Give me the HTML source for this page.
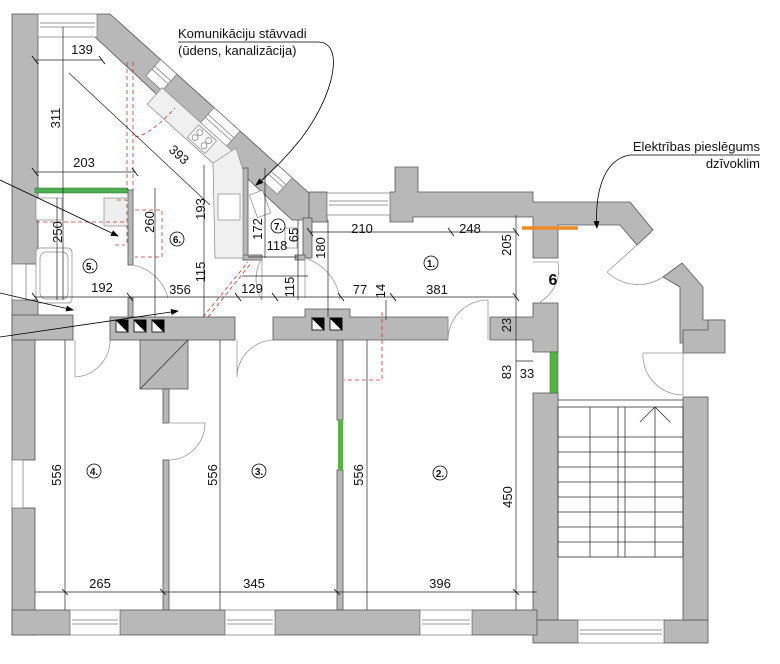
<!DOCTYPE html>
<html><head><meta charset="utf-8"><style>
html,body{margin:0;padding:0;background:#fff;}
svg{display:block;}
text{font-family:"Liberation Sans",sans-serif;font-size:13px;fill:#111;}
</style></head><body>
<svg width="780" height="664" viewBox="0 0 780 664" xmlns="http://www.w3.org/2000/svg">
<defs>
<marker id="ar" markerWidth="8" markerHeight="8" refX="7" refY="4" orient="auto" markerUnits="userSpaceOnUse"><path d="M0,1 L8,4 L0,7 z" fill="#000"/></marker>
</defs>
<g fill="#b8b8b8" stroke="#555" stroke-width="0.8">
<rect x="12" y="14" width="26" height="250"/>
<rect x="12" y="300" width="26" height="40"/>
<rect x="12" y="315" width="61" height="25"/>
<rect x="12" y="340" width="23" height="120"/>
<rect x="12" y="508" width="23" height="127"/>
<polygon points="97,14 110,14 309,193 309,220 292,220 95,37"/>
<rect x="309" y="192" width="18" height="30"/>
<polygon points="390,192 395,192 395,167 418,167 418,192 533,192 533,202 630,202 653,230 637,245 620,225 558,225 558,258 533,258 533,217 413,217 413,222 390,222"/>
<rect x="303" y="218" width="9" height="40"/>
<polygon points="663,277 682,263 703,287 703,320 723,320 723,343 680,343 680,287"/>
<polygon points="273,317 305,317 305,309 350,309 350,317 448,317 448,340 273,340"/>
<polygon points="490,317 533,317 533,303 558,303 558,352 533,352 533,340 490,340"/>
<rect x="110" y="317" width="125" height="23"/>
<rect x="128" y="298" width="5" height="19"/>
<rect x="140" y="340" width="48" height="49"/>
<rect x="163" y="389" width="6" height="34"/>
<rect x="163" y="460" width="6" height="150"/>
<rect x="337" y="340" width="6" height="80"/>
<rect x="337" y="470" width="6" height="140"/>
<rect x="128" y="190" width="5" height="75"/>
<rect x="243" y="168" width="5" height="92"/>
<rect x="243" y="255" width="19" height="5"/>
<rect x="295" y="255" width="10" height="5"/>
<rect x="533" y="393" width="25" height="227"/>
<rect x="533" y="620" width="45" height="23"/>
<rect x="664" y="620" width="44" height="23"/>
<rect x="683" y="397" width="25" height="223"/>
<polygon points="683,330 708,330 708,320 725,320 725,353 708,353 683,353"/>
<rect x="12" y="610" width="58" height="25"/>
<rect x="120" y="610" width="105" height="25"/>
<rect x="275" y="610" width="145" height="25"/>
<rect x="472" y="610" width="65" height="25"/>
</g>
<line x1="140" y1="389" x2="188" y2="340" stroke="#333" stroke-width="0.8"/>
<g fill="#fff" stroke="#777" stroke-width="0.7">
<rect x="38" y="14" width="59" height="23"/><line x1="40" y1="23" x2="95" y2="23"/><line x1="40" y1="27" x2="95" y2="27"/>
<rect x="327" y="193" width="63" height="22"/><line x1="329" y1="201" x2="388" y2="201"/><line x1="329" y1="205" x2="388" y2="205"/>
<rect x="70" y="610" width="50" height="25"/><line x1="72" y1="620" x2="118" y2="620"/><line x1="72" y1="624" x2="118" y2="624"/>
<rect x="225" y="610" width="50" height="25"/><line x1="227" y1="620" x2="273" y2="620"/><line x1="227" y1="624" x2="273" y2="624"/>
<rect x="420" y="610" width="52" height="25"/><line x1="422" y1="620" x2="470" y2="620"/><line x1="422" y1="624" x2="470" y2="624"/>
<rect x="578" y="620" width="86" height="23"/><line x1="580" y1="630" x2="662" y2="630"/><line x1="580" y1="634" x2="662" y2="634"/>
<rect x="12" y="264" width="14" height="36"/>
<rect x="12" y="460" width="11" height="48"/>
</g>
<g transform="translate(110,14) rotate(42)">
<g fill="#fff" stroke="#777" stroke-width="0.7">
<rect x="68" y="0" width="22" height="22"/><rect x="140" y="0" width="35" height="22"/><rect x="225" y="0" width="20" height="22"/>
<line x1="68" y1="9" x2="90" y2="9"/><line x1="140" y1="9" x2="175" y2="9"/><line x1="225" y1="9" x2="245" y2="9"/>
<line x1="68" y1="13" x2="90" y2="13"/><line x1="140" y1="13" x2="175" y2="13"/><line x1="225" y1="13" x2="245" y2="13"/>
</g>
<polygon points="88,20 190,20 178,42 88,42" fill="#f0f0f0" stroke="#888" stroke-width="0.7"/>
<rect x="140" y="23" width="24" height="17" fill="#fafafa" stroke="#777" stroke-width="0.6"/>
<circle cx="146" cy="28" r="3" fill="none" stroke="#666" stroke-width="0.6"/><circle cx="158" cy="28" r="3" fill="none" stroke="#666" stroke-width="0.6"/>
<circle cx="146" cy="35" r="3" fill="none" stroke="#666" stroke-width="0.6"/><circle cx="158" cy="35" r="3" fill="none" stroke="#666" stroke-width="0.6"/>
</g>
<polygon points="213,163 236,148 243,170 243,258 215,258" fill="#f0f0f0" stroke="#888" stroke-width="0.7"/>
<rect x="218" y="194" width="22" height="26" fill="#fff" stroke="#777" stroke-width="0.6"/>
<g fill="#fff" stroke="#888" stroke-width="0.7">
<rect x="36" y="198" width="26" height="22"/>
<rect x="36" y="248" width="36" height="55" rx="4"/>
<rect x="40" y="252" width="28" height="47" rx="6"/>
<rect x="104" y="198" width="24" height="28" fill="#eee"/>
<rect x="253" y="192" width="14" height="24" transform="rotate(-20 260 204)"/>
<rect x="285" y="228" width="12" height="20"/>
</g>
<rect x="35" y="188" width="93" height="5" fill="#4caf50" stroke="#2a6a2a" stroke-width="0.5"/>
<rect x="550" y="352" width="8" height="41" fill="#5bb04a" stroke="#2a6a2a" stroke-width="0.5"/>
<rect x="338" y="420" width="5" height="50" fill="#5bb04a"/>
<line x1="522" y1="228" x2="578" y2="228" stroke="#f08a24" stroke-width="3.5"/>
<g stroke="#000" stroke-width="0.8">
<rect x="116" y="320" width="12" height="12" fill="#fff"/><polygon points="116,320 128,320 128,332" fill="#000"/>
<rect x="134" y="320" width="12" height="12" fill="#fff"/><polygon points="134,320 146,320 146,332" fill="#000"/>
<rect x="152" y="320" width="12" height="12" fill="#fff"/><polygon points="152,320 164,320 164,332" fill="#000"/>
<rect x="312" y="318" width="12" height="12" fill="#fff"/><polygon points="312,318 324,318 324,330" fill="#000"/>
<rect x="330" y="318" width="12" height="12" fill="#fff"/><polygon points="330,318 342,318 342,330" fill="#000"/>
</g>
<g stroke="#333" stroke-width="0.8" fill="none">
<rect x="558" y="407" width="125" height="150"/>
<line x1="618" y1="407" x2="618" y2="557"/><line x1="625" y1="407" x2="625" y2="557"/>
<line x1="590" y1="407" x2="590" y2="557"/><line x1="655" y1="407" x2="655" y2="557"/>
<path d="M558,437H683M558,452H683M558,467H683M558,482H683M558,497H683M558,512H683M558,527H683M558,542H683"/>
<polyline points="640,422 655,407 670,422"/>
<line x1="558" y1="400" x2="683" y2="400"/>
</g>
<g fill="none" stroke="#999" stroke-width="0.8">
<path d="M75,377 V340 M75,377 A37,37 0 0 0 110,340"/>
<path d="M237,377 V340 M237,377 A38,38 0 0 1 273,340"/>
<path d="M170,423 H205 A37,37 0 0 1 170,460"/>
<path d="M448,340 V317 M448,340 A40,40 0 0 1 488,300 V340"/>
<path d="M533,262 H558 A38,38 0 0 1 540,302"/>
<path d="M607,272 L637,245 M607,272 A45,45 0 0 0 663,277"/>
<path d="M643,353 H683 V395 A40,40 0 0 1 643,353"/>
<path d="M133,265 A45,45 0 0 1 168,298"/>
<path d="M262,258 V300 M262,258 A40,40 0 0 0 262,300"/>
<path d="M305,258 A50,50 0 0 1 340,300 M305,258 V298"/>
</g>
<g stroke="#c0392b" stroke-width="0.8" fill="none" stroke-dasharray="4,3">
<path d="M127,62 V190 M133,62 V190"/>
<path d="M135,137 Q150,135 175,108"/>
<path d="M36,222 H128"/><path d="M117,200 H127 V245 M115,245 H125"/>
<path d="M135,210 H162 V257 H135"/>
<path d="M203,317 L248,262 M208,317 L252,262"/>
<path d="M382,312 V380 H344"/>
</g>
<g stroke="#222" stroke-width="0.7" fill="none">
<line x1="35" y1="60" x2="102" y2="60"/>
<line x1="63" y1="27" x2="63" y2="300"/>
<line x1="35" y1="172" x2="135" y2="172"/>
<line x1="69" y1="73" x2="210" y2="205"/>
<line x1="57" y1="198" x2="57" y2="300"/>
<line x1="155" y1="188" x2="155" y2="317"/>
<line x1="204" y1="165" x2="204" y2="317"/>
<line x1="265" y1="168" x2="265" y2="258"/>
<line x1="248" y1="257" x2="297" y2="257"/>
<line x1="298" y1="220" x2="298" y2="300"/>
<line x1="310" y1="232" x2="516" y2="232"/>
<line x1="328" y1="220" x2="328" y2="317"/>
<line x1="35" y1="297" x2="516" y2="297"/>
<line x1="242" y1="276" x2="308" y2="276"/>
<line x1="516" y1="215" x2="516" y2="610"/>
<line x1="516" y1="361" x2="533" y2="361"/>
<line x1="65" y1="340" x2="65" y2="610"/>
<line x1="220" y1="340" x2="220" y2="610"/>
<line x1="367" y1="340" x2="367" y2="610"/>
<line x1="35" y1="592" x2="537" y2="592"/>
<line x1="386" y1="300" x2="386" y2="320"/>
</g>
<g stroke="#000" stroke-width="0.8">
<path d="M32,56 L38,64 M99,56 L105,64 M32,168 L38,176 M132,168 L138,176 M32,293 L38,301 M127,293 L133,301 M235,293 L241,301 M272,293 L278,301 M338,293 L344,301 M390,293 L396,301 M513,293 L519,301 M307,228 L313,236 M448,228 L454,236 M513,228 L519,236 M62,589 L68,595 M160,589 L166,595 M334,589 L340,595 M513,589 L519,595"/>
</g>
<g stroke="#000" stroke-width="0.8" fill="none">
<line x1="0" y1="180" x2="118" y2="236" marker-end="url(#ar)"/>
<line x1="0" y1="293" x2="73" y2="310" marker-end="url(#ar)"/>
<line x1="0" y1="337" x2="178" y2="311" marker-end="url(#ar)"/>
<path d="M178,42 H318 C345,42 335,95 300,140 C280,165 262,180 256,185" marker-end="url(#ar)"/>
<path d="M760,155 H630 C600,160 595,200 597,228" marker-end="url(#ar)"/>
</g>
<text x="178" y="38">Komunikāciju stāvvadi</text>
<text x="178" y="55">(ūdens, kanalizācija)</text>
<text x="760" y="151" text-anchor="end">Elektrības pieslēgums</text>
<text x="760" y="168" text-anchor="end">dzīvoklim</text>
<g text-anchor="middle">
<text x="82" y="54">139</text>
<text x="84" y="167">203</text>
<text x="102" y="292">192</text>
<text x="180" y="294">356</text>
<text x="252" y="293">129</text>
<text x="277" y="250">118</text>
<text x="360" y="294">77</text>
<text x="437" y="294">381</text>
<text x="362" y="233">210</text>
<text x="470" y="233">248</text>
<text x="527" y="378">33</text>
<text x="100" y="588">265</text>
<text x="254" y="588">345</text>
<text x="440" y="588">396</text>
<text transform="translate(60,118) rotate(-90)">311</text>
<text transform="translate(62,232) rotate(-90)">250</text>
<text transform="translate(154,222) rotate(-90)">260</text>
<text transform="translate(205,209) rotate(-90)">193</text>
<text transform="translate(205,272) rotate(-90)">115</text>
<text transform="translate(262,229) rotate(-90)">172</text>
<text transform="translate(298,235) rotate(-90)">65</text>
<text transform="translate(294,287) rotate(-90)">115</text>
<text transform="translate(325,248) rotate(-90)">180</text>
<text transform="translate(385,291) rotate(-90)">14</text>
<text transform="translate(511,245) rotate(-90)">205</text>
<text transform="translate(511,325) rotate(-90)">23</text>
<text transform="translate(511,372) rotate(-90)">83</text>
<text transform="translate(61,475) rotate(-90)">556</text>
<text transform="translate(217,475) rotate(-90)">556</text>
<text transform="translate(363,475) rotate(-90)">556</text>
<text transform="translate(512,497) rotate(-90)">450</text>
<text transform="translate(176,158) rotate(42)">393</text>
<text x="553" y="285" style="font-weight:bold;font-size:16px">6</text>
</g>
<g fill="#fff" stroke="#000" stroke-width="0.8">
<circle cx="90" cy="266" r="7"/><circle cx="177" cy="239" r="7"/><circle cx="278" cy="226" r="7"/>
<circle cx="431" cy="263" r="7"/><circle cx="94" cy="471" r="7"/><circle cx="259" cy="471" r="7"/><circle cx="440" cy="473" r="7"/>
</g>
<g text-anchor="middle">
<text x="90" y="270" style="font-size:10px;font-weight:bold">5.</text>
<text x="177" y="243" style="font-size:10px;font-weight:bold">6.</text>
<text x="278" y="230" style="font-size:10px;font-weight:bold">7.</text>
<text x="431" y="267" style="font-size:10px;font-weight:bold">1.</text>
<text x="94" y="475" style="font-size:10px;font-weight:bold">4.</text>
<text x="259" y="475" style="font-size:10px;font-weight:bold">3.</text>
<text x="440" y="477" style="font-size:10px;font-weight:bold">2.</text>
</g>
</svg>
</body></html>
